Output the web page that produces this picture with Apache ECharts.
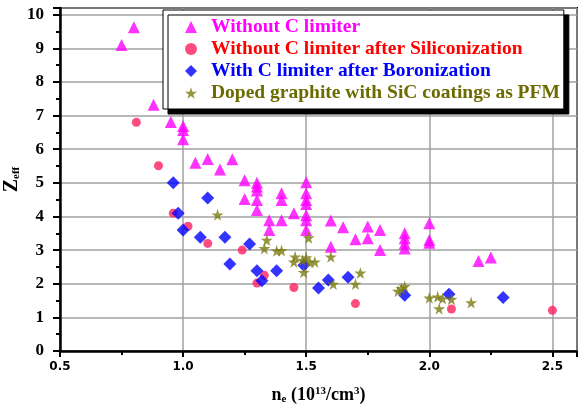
<!DOCTYPE html>
<html>
<head>
<meta charset="utf-8">
<script src="https://cdn.jsdelivr.net/npm/echarts@6/dist/echarts.min.js"></script>
<style>html,body{margin:0;padding:0;background:#fff;}#chart{width:578px;height:409px;}</style>
</head>
<body>
<div id="chart"></div>
<script>
var seriesNames = [
  'Without C limiter',
  'Without C limiter after Siliconization',
  'With C limiter after Boronization',
  'Doped graphite with SiC coatings as PFM'
];
var xTickLabels = ['0.5', '1.0', '1.5', '2.0', '2.5'];
var yTickLabels = ['0','1','2','3','4','5','6','7','8','9','10'];

var withoutC = [
  [0.75,9.1],[0.80,9.63],[0.88,7.32],[0.95,6.81],[1.0,6.69],[1.0,6.57],[1.0,6.3],
  [1.05,5.6],[1.10,5.71],[1.15,5.40],[1.20,5.70],[1.25,5.08],[1.30,5.0],[1.30,4.89],
  [1.30,4.77],[1.25,4.52],[1.30,4.49],[1.30,4.19],[1.35,3.89],[1.35,3.6],[1.40,4.69],
  [1.40,4.49],[1.40,3.89],[1.45,4.1],[1.50,5.02],[1.50,4.69],[1.50,4.49],[1.50,4.37],
  [1.50,4.04],[1.50,3.89],[1.50,3.6],[1.60,3.88],[1.60,3.1],[1.65,3.68],[1.70,3.32],
  [1.75,3.7],[1.75,3.35],[1.80,3.6],[1.80,3.0],[1.90,3.5],[1.90,3.35],[1.90,3.2],
  [1.90,3.05],[2.0,3.8],[2.0,3.3],[2.0,3.22],[2.20,2.68],[2.25,2.78]
];
var siliconized = [
  [0.81,6.8],[0.90,5.51],[0.96,4.1],[1.02,3.71],[1.10,3.2],[1.24,3.0],[1.30,2.02],
  [1.33,2.25],[1.45,1.89],[1.70,1.41],[2.09,1.25],[2.50,1.21]
];
var boronized = [
  [0.96,5.0],[0.98,4.1],[1.0,3.6],[1.07,3.38],[1.10,4.55],[1.17,3.38],[1.19,2.59],
  [1.27,3.18],[1.30,2.39],[1.32,2.09],[1.38,2.39],[1.49,2.55],[1.55,1.87],[1.59,2.11],
  [1.67,2.19],[1.90,1.66],[2.08,1.69],[2.30,1.59]
];
var dopedGraphite = [
  [1.14,4.05],[1.34,3.3],[1.33,3.05],[1.38,2.98],[1.40,2.99],[1.455,2.8],[1.45,2.65],
  [1.485,2.7],[1.50,2.78],[1.515,2.64],[1.535,2.65],[1.49,2.34],[1.51,3.37],[1.60,2.8],
  [1.61,1.99],[1.70,1.99],[1.72,2.32],[1.873,1.78],[1.887,1.86],[1.90,1.92],[2.0,1.58],
  [2.034,1.61],[2.054,1.56],[2.04,1.26],[2.09,1.54],[2.17,1.44]
];

var starPath = 'path://M50,0 L61,35 L98,35 L68,57 L79,91 L50,70 L21,91 L32,57 L2,35 L39,35 Z';
var colors = ['#ff00ff', '#ff1f5f', '#0000ff', '#7a7a10'];
var textColors = ['#ff00ff', '#ff0000', '#0000ff', '#6b6b00'];

var chart = echarts.init(document.getElementById('chart'));
chart.setOption({
  backgroundColor: '#fff',
  animation: false,
  grid: {
    left: 60, right: 1, top: 8, bottom: 58,
    outerBoundsMode: 'none', containLabel: false,
    show: true, borderColor: '#000', borderWidth: 2, backgroundColor: 'transparent'
  },
  legend: {
    orient: 'vertical',
    left: 163, top: 10,
    backgroundColor: '#fff',
    borderColor: '#000', borderWidth: 1,
    shadowColor: '#000', shadowBlur: 0, shadowOffsetX: 5, shadowOffsetY: 5,
    padding: [7, 4, 6, 22],
    itemGap: 2,
    itemWidth: 12, itemHeight: 12,
    textStyle: { fontFamily: 'Liberation Serif', fontWeight: 'bold', fontSize: 19.5, lineHeight: 20, padding: [0, 0, 0, 9] },
    data: seriesNames.map(function (n, i) {
      return { name: n, textStyle: { color: textColors[i] } };
    })
  },
  xAxis: {
    type: 'value', min: 0.5, max: 2.6, interval: 0.5,
    axisLine: { show: true, onZero: false, lineStyle: { color: '#000', width: 2.5 } },
    axisTick: { show: true, length: 6, lineStyle: { color: '#000', width: 2 } },
    minorTick: { show: true, splitNumber: 2, length: 4, lineStyle: { color: '#000', width: 2 } },
    splitLine: { show: true, lineStyle: { color: '#a0a0a0', width: 1.5 } },
    axisLabel: {
      margin: 10, color: '#000', fontFamily: 'DejaVu Sans', fontWeight: 'bold', fontSize: 12,
      showMaxLabel: false,
      formatter: function (v) { var i = Math.round((v - 0.5) / 0.5); return xTickLabels[i] || ''; }
    },
    name: '{b|n}{s|e}{b| (10}{p|13}{b|/cm}{p|3}{b|)}',
    nameLocation: 'middle', nameGap: 35,
    nameTextStyle: {
      rich: {
        b: { fontFamily: 'Liberation Serif', fontWeight: 'bold', fontSize: 18, color: '#000' },
        s: { fontFamily: 'Liberation Serif', fontWeight: 'bold', fontSize: 11, color: '#000', verticalAlign: 'bottom', padding: [8, 0, 0, 0] },
        p: { fontFamily: 'Liberation Serif', fontWeight: 'bold', fontSize: 11, color: '#000', verticalAlign: 'top', padding: [0, 0, 8, 0] }
      }
    }
  },
  yAxis: {
    type: 'value', min: 0, max: 10.2, interval: 1,
    axisLine: { show: true, onZero: false, lineStyle: { color: '#000', width: 2.5 } },
    axisTick: { show: true, length: 7, lineStyle: { color: '#000', width: 2 } },
    minorTick: { show: true, splitNumber: 2, length: 4, lineStyle: { color: '#000', width: 2 } },
    splitLine: { show: true, lineStyle: { color: '#a0a0a0', width: 1.5 } },
    axisLabel: {
      margin: 16, color: '#000', fontFamily: 'Liberation Serif', fontWeight: 'bold', fontSize: 17,
      formatter: function (v) { return yTickLabels[Math.round(v)] || ''; }
    },
    name: '{b|Z}{s|eff}',
    nameLocation: 'middle', nameGap: 38, nameRotate: 90, nameMoveOverlap: false,
    nameTextStyle: {
      rich: {
        b: { fontFamily: 'Liberation Serif', fontWeight: 'bold', fontSize: 20, color: '#000' },
        s: { fontFamily: 'Liberation Serif', fontWeight: 'bold', fontSize: 11, color: '#000', verticalAlign: 'bottom', padding: [8, 0, 0, 0] }
      }
    }
  },
  series: [
    { name: seriesNames[0], type: 'scatter', symbol: 'triangle', symbolSize: 12, itemStyle: { color: colors[0] }, data: withoutC },
    { name: seriesNames[1], type: 'scatter', symbol: 'circle', symbolSize: 9, itemStyle: { color: colors[1] }, data: siliconized },
    { name: seriesNames[2], type: 'scatter', symbol: 'diamond', symbolSize: 13, itemStyle: { color: colors[2] }, data: boronized },
    { name: seriesNames[3], type: 'scatter', symbol: starPath, symbolSize: 12, itemStyle: { color: colors[3] }, data: dopedGraphite }
  ]
});
</script>
</body>
</html>
